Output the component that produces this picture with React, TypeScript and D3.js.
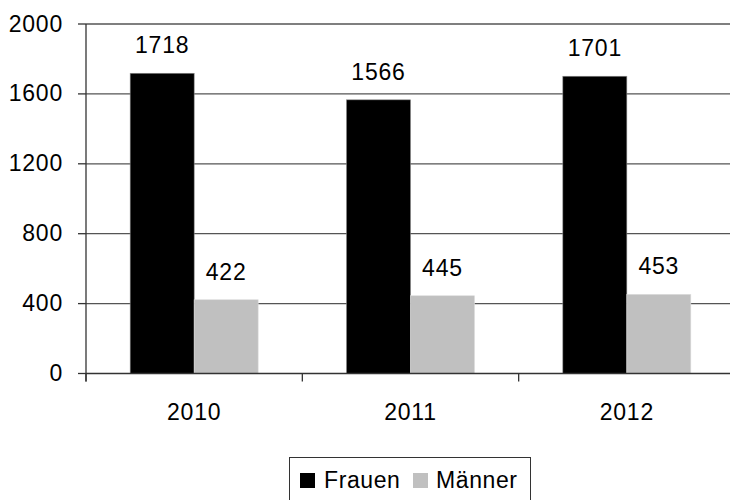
import React from "react";
import * as d3 from "d3";

const categories = ["2010", "2011", "2012"];
const seriesNames = ["Frauen", "Männer"];
const frauen = [1718, 1566, 1701];
const maenner = [422, 445, 453];
const yTicks = [0, 400, 800, 1200, 1600, 2000];
const colors = ["#000000", "#c0c0c0"];

export default function App() {
  const W = 730, H = 500;
  const left = 86, right = 735, top = 24, bottom = 373.5;
  const x = d3.scaleBand().domain(categories).range([left, right]).paddingInner(0).paddingOuter(0);
  const y = d3.scaleLinear().domain([0, 2000]).range([bottom, top]);
  const series = [frauen, maenner];
  const barW = 64;
  const font = "Liberation Sans, Arial, sans-serif";
  const fs = 23;
  const ls = 0.8;
  return (
    <svg width={W} height={H} style={{ position: "absolute", left: 0, top: 0, background: "#fff" }} fontFamily={font}>
      {yTicks.map((t) => (
        <g key={t}>
          {t > 0 && <line x1={left} x2={right} y1={y(t)} y2={y(t)} stroke="#555" strokeWidth={1.3} />}
          <line x1={78} x2={left} y1={y(t)} y2={y(t)} stroke="#333" strokeWidth={1.3} />
          <text x={63} y={y(t) + 7.5} textAnchor="end" fontSize={fs} letterSpacing={ls} fill="#000">{t}</text>
        </g>
      ))}
      {categories.map((c, i) =>
        series.map((s, j) => {
          const cx = x(c)! + x.bandwidth() / 2;
          const bx = cx - barW + j * barW;
          return (
            <g key={c + j}>
              <rect x={bx} y={y(s[i])} width={barW} height={bottom - y(s[i])} fill={colors[j]} stroke={j === 0 ? "#888" : "#ddd"} strokeWidth={0.6} />
              <text x={bx + barW / 2} y={y(s[i]) - 20} textAnchor="middle" fontSize={fs} letterSpacing={ls} fill="#000">{s[i]}</text>
            </g>
          );
        })
      )}
      <line x1={left} x2={left} y1={top} y2={bottom + 8} stroke="#333" strokeWidth={1.3} />
      <line x1={left} x2={right} y1={bottom} y2={bottom} stroke="#333" strokeWidth={1.3} />
      {categories.map((c) => (
        <g key={c}>
          <line x1={x(c)!} x2={x(c)!} y1={bottom} y2={bottom + 8} stroke="#333" strokeWidth={1.3} />
          <text x={x(c)! + x.bandwidth() / 2} y={420} textAnchor="middle" fontSize={fs} letterSpacing={ls} fill="#000">{c}</text>
        </g>
      ))}
      <line x1={right} x2={right} y1={bottom} y2={bottom + 8} stroke="#333" strokeWidth={1.3} />
      <g>
        <rect x={289.5} y={457.5} width={241} height={50} fill="none" stroke="#333" strokeWidth={1} />
        <rect x={300} y={473} width={15} height={15} fill={colors[0]} />
        <text x={324} y={488} fontSize={23} letterSpacing={0.6}>{seriesNames[0]}</text>
        <rect x={413} y={473} width={15} height={15} fill={colors[1]} />
        <text x={436} y={488} fontSize={23} letterSpacing={0.6}>{seriesNames[1]}</text>
      </g>
    </svg>
  );
}
